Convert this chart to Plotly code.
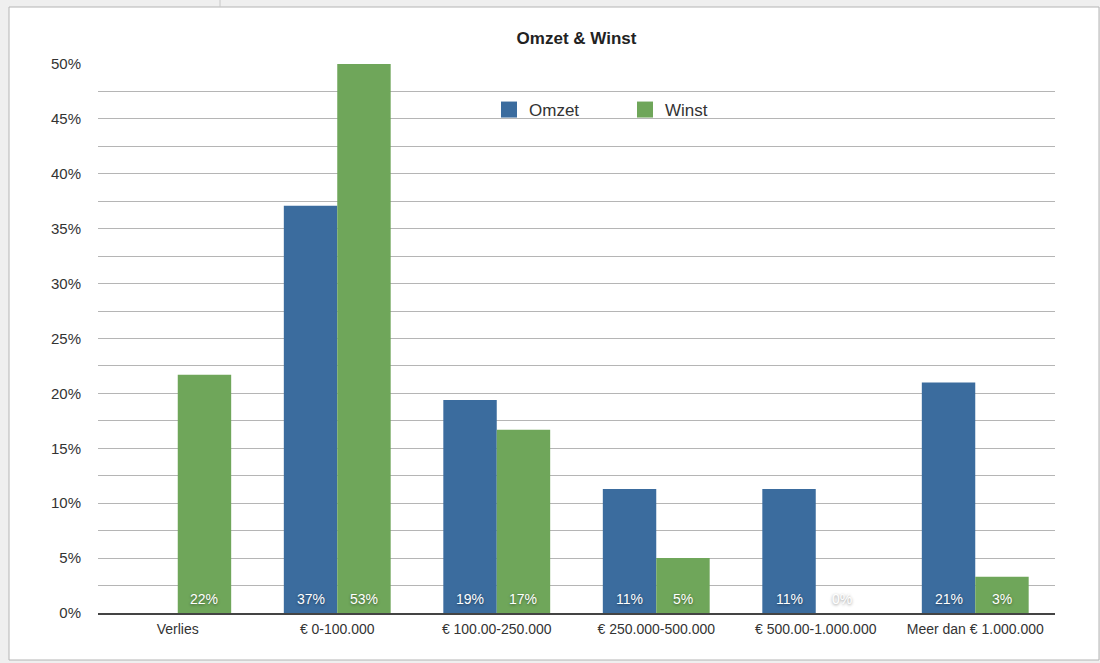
import plotly.graph_objects as go

# Categories and series (percentages)
categories = ["Verlies", "€ 0-100.000", "€ 100.00-250.000", "€ 250.000-500.000",
              "€ 500.00-1.000.000", "Meer dan € 1.000.000"]
omzet = [None, 37.1, 19.4, 11.3, 11.3, 21.0]
winst = [21.7, 53.0, 16.7, 5.0, 0.0, 3.3]

y_tickvals = [0, 2.5, 5, 7.5, 10, 12.5, 15, 17.5, 20, 22.5, 25,
              27.5, 30, 32.5, 35, 37.5, 40, 42.5, 45, 47.5, 50]
y_ticktext = ["0%", "", "5%", "", "10%", "", "15%", "", "20%", "", "25%",
              "", "30%", "", "35%", "", "40%", "", "45%", "", "50%"]

BLUE = "#3b6c9e"
GREEN = "#6fa65a"
FONT = "Liberation Sans, Arial, Helvetica, sans-serif"

fig = go.Figure()
fig.add_trace(go.Bar(name="Omzet", x=categories, y=omzet, showlegend=False,
                     marker=dict(color=BLUE, line=dict(width=0))))
fig.add_trace(go.Bar(name="Winst", x=categories, y=winst, showlegend=False,
                     marker=dict(color=GREEN, line=dict(width=0))))

# Legend entries with larger square swatches
for name, color in (("Omzet", BLUE), ("Winst", GREEN)):
    fig.add_trace(go.Scatter(name=name, x=[None], y=[None], mode="markers",
                             marker=dict(symbol="square", size=16, color=color),
                             showlegend=True, hoverinfo="skip"))

# Value labels at the base of each bar
annotations = []
for series, shift in ((omzet, -26.7), (winst, 26.7)):
    for cat, v in zip(categories, series):
        if v is None:
            continue
        annotations.append(dict(
            x=cat, y=0, xref="x", yref="y", xshift=shift, yshift=4,
            yanchor="bottom", xanchor="center", showarrow=False,
            text=f"{round(v)}%",
            font=dict(family=FONT, size=14, color="white",
                      shadow="0px 1px 3px rgba(0,0,0,0.45)"),
        ))

shapes = [
    # white card with thin grey border
    dict(type="rect", xref="paper", yref="paper", layer="below",
         x0=(9 - 98) / 957, x1=(1099 - 98) / 957,
         y0=(613 - 660) / 549, y1=(613 - 7) / 549,
         fillcolor="white", line=dict(color="#b4b4b4", width=1)),
    # small divider line from the surrounding window
    dict(type="line", xref="paper", yref="paper", layer="below",
         x0=(220 - 98) / 957, x1=(220 - 98) / 957,
         y0=(613 - 0) / 549, y1=(613 - 7) / 549,
         line=dict(color="#c8c8c8", width=1)),
]

fig.update_layout(
    width=1100, height=663,
    margin=dict(l=98, r=45, t=64, b=50),
    paper_bgcolor="#efefef",
    plot_bgcolor="rgba(0,0,0,0)",
    barmode="group", bargap=0.33, bargroupgap=0,
    font=dict(family=FONT, size=14, color="#333333"),
    title=dict(text="<b>Omzet & Winst</b>", x=576.5 / 1100, xanchor="center",
               y=1 - 38 / 663, yanchor="middle",
               font=dict(family=FONT, size=17, color="#222222")),
    legend=dict(orientation="h", x=(489 - 98) / 957, xanchor="left",
                y=(613 - 92) / 549, yanchor="top",
                font=dict(family=FONT, size=17, color="#333333"),
                bgcolor="rgba(0,0,0,0)", entrywidth=91, entrywidthmode="pixels",
                itemsizing="trace", traceorder="normal"),
    xaxis=dict(showgrid=False, showline=True, linecolor="#444444", linewidth=2,
               ticks="", tickfont=dict(size=14, color="#333333"),
               ticklabelstandoff=2),
    yaxis=dict(range=[0, 50], tickvals=y_tickvals, ticktext=y_ticktext,
               showgrid=True, gridcolor="#b5b5b5", gridwidth=1,
               zeroline=False, showline=False, ticks="",
               ticklabelstandoff=16, tickfont=dict(size=15, color="#333333")),
    annotations=annotations,
    shapes=shapes,
)

fig.write_html("out.html")
